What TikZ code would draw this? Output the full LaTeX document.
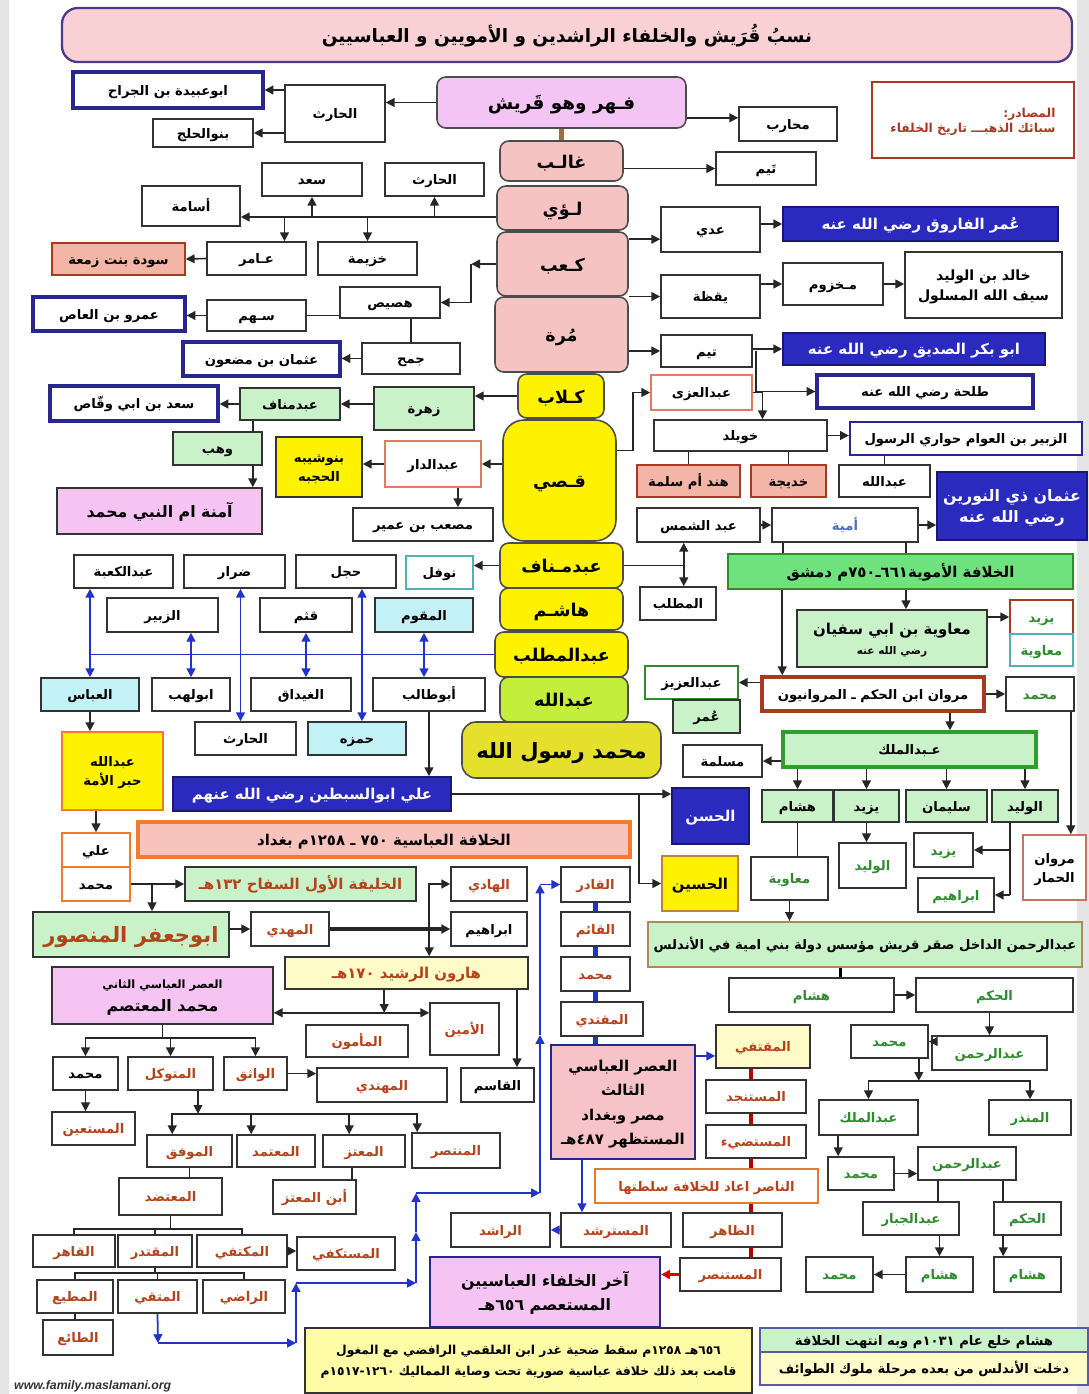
\documentclass[tikz,border=0pt]{standalone}
\usepackage{fontspec}
\usetikzlibrary{arrows.meta}
\newfontfamily\arabicfont[Script=Arabic]{DejaVu Sans}
\newfontfamily\urlfont{Liberation Sans}
\TeXXeTstate=1
\newcommand\artext[1]{\raisebox{0pt}[0.8em][0em]{\arabicfont\beginR #1\endR}}
\definecolor{titlefill}{HTML}{F9D0D4}
\definecolor{titledraw}{HTML}{4A3C8C}
\definecolor{fahrfill}{HTML}{F4C4F4}
\definecolor{spinepink}{HTML}{F6C3C3}
\definecolor{spineyel}{HTML}{FFF200}
\definecolor{limefill}{HTML}{C4EE3C}
\definecolor{rasulfill}{HTML}{E4E02C}
\definecolor{lgreen}{HTML}{C9F2C9}
\definecolor{umgreen}{HTML}{6FE27E}
\definecolor{salmon}{HTML}{F3B5A6}
\definecolor{lcyan}{HTML}{C2F1F6}
\definecolor{royal}{HTML}{2A2ABF}
\definecolor{navyb}{HTML}{28288C}
\definecolor{pinkmag}{HTML}{F6C4F2}
\definecolor{thirdpink}{HTML}{F6C4C8}
\definecolor{abbpink}{HTML}{F7C3BC}
\definecolor{orng}{HTML}{F07A2E}
\definecolor{lyellow}{HTML}{FFFBC9}
\definecolor{fallyellow}{HTML}{FFFCA8}
\definecolor{brn}{HTML}{B4421B}
\definecolor{grn}{HTML}{2E8B2E}
\definecolor{redbrown}{HTML}{A83A22}
\definecolor{salmondraw}{HTML}{E07A60}
\definecolor{tealdraw}{HTML}{4FB3B3}
\definecolor{umblue}{HTML}{4F6FB8}
\definecolor{mgreen}{HTML}{2E9E2E}
\definecolor{dakhildraw}{HTML}{B08A50}
\definecolor{lineblue}{HTML}{2233CC}
\definecolor{brownline}{HTML}{9A7040}
\definecolor{sidegray}{HTML}{E4E4E4}
\begin{document}
\begin{tikzpicture}[x=0.02cm, y=-0.02cm,
    >={Triangle[length=5pt,width=5pt]},
    ltrb/.style args={#1/#2/#3/#4}{at={({(#1+#3)/2},{(#2+#4)/2})},
        minimum width={(#3-#1)*0.02cm}, minimum height={(#4-#2)*0.02cm}},
    box/.style={draw=black!80, line width=0.9pt, fill=white, inner sep=1pt,
        font=\bfseries\fontsize{7.5}{9.5}\selectfont},
    pinkspine/.style={box, rounded corners=5pt, fill=spinepink, draw=black!70,
        font=\bfseries\fontsize{10}{12}\selectfont},
    yelspine/.style={pinkspine, fill=spineyel},
    bluebord/.style={box, draw=navyb, line width=1.8pt},
    bluefill/.style={box, fill=royal, draw=royal!60!black, text=white,
        font=\bfseries\fontsize{8.5}{10.5}\selectfont},
    greenbox/.style={box, fill=lgreen},
    salmonbox/.style={box, fill=salmon, draw=redbrown},
    cyanbox/.style={box, fill=lcyan},
    yelbox/.style={box, fill=spineyel},
    magbox/.style={box, fill=pinkmag},
    arr/.style={->, draw=black!85, line width=0.9pt},
    ln/.style={draw=black!85, line width=0.9pt},
    barr/.style={->, draw=lineblue, line width=1pt},
    bln/.style={draw=lineblue, line width=1pt},
    bdbl/.style={<->, draw=lineblue, line width=1pt},
    thb/.style={draw=lineblue, line width=2.4pt},
    thr/.style={draw=red!70!black, line width=2.4pt},
    rarr/.style={->, draw=red!85!black, line width=1.2pt}]
    \useasboundingbox (0,0) rectangle (1089,1394);
    \fill[sidegray] (0,0) rectangle (1089,1394);
    \fill[white] (9,0) rectangle (1077,1394);

    \node[box, rounded corners=9pt, fill=titlefill, draw=titledraw, line width=1.3pt,
        font=\bfseries\fontsize{10.5}{13}\selectfont, ltrb=62/8/1072/62] (title)
        {\artext{نسبُ قُرَيش والخلفاء الراشدين و الأمويين و العباسيين}};
    \node[pinkspine, fill=fahrfill, font=\bfseries\fontsize{10.5}{12}\selectfont,
        ltrb=437/77/686/128] (fahr) {\artext{فـهر وهو قَريش}};
    \node[box, ltrb=285/85/385/142] (harithA) {\artext{الحارث}};
    \node[bluebord, ltrb=73/72/263/108] (ubayda) {\artext{ابوعبيدة بن الجراح}};
    \node[box, ltrb=153/119/253/147] (banuhalaj) {\artext{بنوالحلج}};
    \node[box, ltrb=739/107/837/141] (muharib) {\artext{محارب}};
    \node[box, draw=redbrown, text=redbrown, align=right,
        font=\bfseries\fontsize{7}{9}\selectfont, ltrb=872/82/1074/158] (sources)
        {\artext{المصادر:}\\\artext{سبائك الذهبـــ تاريخ الخلفاء}};
    \node[pinkspine, ltrb=500/141/623/181] (ghalib) {\artext{غالـب}};
    \node[box, ltrb=716/152/816/185] (taymA) {\artext{تَيم}};
    \node[pinkspine, ltrb=497/186/628/230] (luayy) {\artext{لـؤي}};
    \node[box, ltrb=385/163/484/196] (harithB) {\artext{الحارث}};
    \node[box, ltrb=262/163/362/196] (saad) {\artext{سعد}};
    \node[box, ltrb=142/186/240/226] (usama) {\artext{أسامة}};
    \node[box, ltrb=318/242/417/275] (khuzayma) {\artext{خزيمة}};
    \node[box, ltrb=207/242/306/275] (amir) {\artext{عـامر}};
    \node[salmonbox, ltrb=52/243/185/275] (sawda) {\artext{سودة بنت زمعة}};
    \node[pinkspine, ltrb=497/232/628/296] (kaab) {\artext{كـعب}};
    \node[box, ltrb=340/287/440/318] (husays) {\artext{هصيص}};
    \node[box, ltrb=207/300/306/331] (sahm) {\artext{سـهم}};
    \node[bluebord, ltrb=33/297/185/331] (amr) {\artext{عمرو بن العاص}};
    \node[box, ltrb=362/343/460/374] (jumah) {\artext{جمح}};
    \node[bluebord, ltrb=183/342/340/376] (uthmanM) {\artext{عثمان بن مضعون}};
    \node[pinkspine, ltrb=495/297/628/372] (murra) {\artext{مُرة}};
    \node[box, ltrb=661/207/760/252] (adi) {\artext{عدي}};
    \node[bluefill, ltrb=783/207/1058/241] (umar) {\artext{عُمر الفاروق رضي الله عنه}};
    \node[box, ltrb=661/275/760/318] (yaqaza) {\artext{يقظة}};
    \node[box, ltrb=783/263/883/305] (makhzum) {\artext{مـخزوم}};
    \node[box, align=center, font=\bfseries\fontsize{8}{11}\selectfont, ltrb=905/252/1062/318] (khalid)
        {\artext{خالد بن الوليد}\\\artext{سيف الله المسلول}};
    \node[box, ltrb=661/335/752/367] (taymB) {\artext{تيم}};
    \node[bluefill, ltrb=783/333/1045/365] (abubakr) {\artext{ابو بكر الصديق رضي الله عنه}};
    \node[bluebord, ltrb=817/375/1033/408] (talha) {\artext{طلحة رضي الله عنه}};
    \node[yelspine, ltrb=518/374/604/418] (kilab) {\artext{كـلاب}};
    \node[greenbox, ltrb=374/387/474/430] (zuhra) {\artext{زهرة}};
    \node[greenbox, ltrb=240/388/340/420] (abdmanafZ) {\artext{عبدمناف}};
    \node[bluebord, ltrb=50/386/218/421] (saadw) {\artext{سعد بن ابي وقّاص}};
    \node[greenbox, ltrb=173/432/262/465] (wahb) {\artext{وهب}};
    \node[magbox, font=\bfseries\fontsize{9}{11}\selectfont, ltrb=57/488/262/534] (amina)
        {\artext{آمنة ام النبي محمد}};
    \node[yelbox, align=center, font=\bfseries\fontsize{7.5}{11}\selectfont, ltrb=276/437/362/497] (banushayba)
        {\artext{بنوشيبه}\\\artext{الحجبه}};
    \node[box, draw=salmondraw, ltrb=385/441/481/487] (abddar) {\artext{عبدالدار}};
    \node[box, ltrb=353/508/493/541] (musab) {\artext{مصعب بن عمير}};
    \node[yelspine, rounded corners=12pt, ltrb=503/420/616/541] (qusayy) {\artext{قـصي}};
    \node[box, draw=salmondraw, ltrb=651/375/752/410] (abduzza) {\artext{عبدالعزى}};
    \node[box, ltrb=654/420/827/451] (khuwaylid) {\artext{خويلد}};
    \node[bluebord, line width=1.3pt, ltrb=850/422/1082/455] (zubayr)
        {\artext{الزبير بن العوام حواري الرسول}};
    \node[box, ltrb=839/465/930/497] (abdallahZ) {\artext{عبدالله}};
    \node[salmonbox, ltrb=637/465/740/497] (hind) {\artext{هند أم سلمة}};
    \node[salmonbox, ltrb=751/465/826/497] (khadija) {\artext{خديجة}};
    \node[bluefill, align=center, font=\bfseries\fontsize{9}{12}\selectfont, ltrb=937/472/1087/540] (uthman)
        {\artext{عثمان ذي النورين}\\\artext{رضي الله عنه}};
    \node[box, ltrb=637/508/760/542] (abdshams) {\artext{عبد الشمس}};
    \node[box, text=umblue, ltrb=772/508/918/542] (umayya) {\artext{أمية}};
    \node[yelspine, ltrb=500/543/623/588] (abdmanaf) {\artext{عبدمـناف}};
    \node[box, ltrb=640/587/716/620] (muttalib) {\artext{المطلب}};
    \node[box, draw=tealdraw, ltrb=406/556/473/589] (nawfal) {\artext{نوفل}};
    \node[box, fill=umgreen, draw=grn, font=\bfseries\fontsize{8.5}{10}\selectfont,
        ltrb=728/554/1073/589] (umayyad) {\artext{الخلافة الأموية٦٦١ـ٧٥٠م دمشق}};
    \node[greenbox, align=center, font=\bfseries\fontsize{8.5}{11}\selectfont, ltrb=797/610/987/667] (muawiya)
        {\artext{معاوية بن ابي سفيان}\\{\fontsize{6}{8}\selectfont\artext{رضي الله عنه}}};
    \node[box, draw=redbrown, text=grn, ltrb=1010/600/1073/634] (yazidA) {\artext{يزيد}};
    \node[box, draw=tealdraw, text=grn, ltrb=1010/634/1073/666] (muawiyaB) {\artext{معاوية}};
    \node[box, draw=redbrown, line width=2pt, ltrb=762/677/984/711] (marwan)
        {\artext{مروان ابن الحكم ـ المروانيون}};
    \node[box, text=grn, ltrb=1006/677/1074/711] (muhammadM) {\artext{محمد}};
    \node[box, draw=grn, ltrb=645/666/738/699] (abdaziz) {\artext{عبدالعزيز}};
    \node[greenbox, ltrb=673/700/740/733] (umarB) {\artext{عُمر}};
    \node[box, ltrb=683/745/762/777] (maslama) {\artext{مسلمة}};
    \node[greenbox, draw=mgreen, line width=2pt, ltrb=783/732/1036/767] (abdmalik)
        {\artext{عـبدالملك}};
    \node[greenbox, ltrb=762/790/833/822] (hishamA) {\artext{هشام}};
    \node[greenbox, ltrb=834/790/899/822] (yazidB) {\artext{يزيد}};
    \node[greenbox, ltrb=906/790/987/822] (sulayman) {\artext{سليمان}};
    \node[greenbox, ltrb=992/790/1058/822] (walidA) {\artext{الوليد}};
    \node[box, text=grn, ltrb=839/843/906/888] (walidB) {\artext{الوليد}};
    \node[box, text=grn, ltrb=914/833/973/867] (yazidC) {\artext{يزيد}};
    \node[box, text=grn, ltrb=918/878/994/912] (ibrahimA) {\artext{ابراهيم}};
    \node[box, align=center, draw=redbrown!70, font=\bfseries\fontsize{7.5}{11}\selectfont,
        ltrb=1023/835/1086/900] (marwanH) {\artext{مروان}\\\artext{الحمار}};
    \node[box, text=grn, ltrb=751/857/828/900] (muawiyaC) {\artext{معاوية}};
    \node[greenbox, draw=dakhildraw, line width=1.3pt, font=\bfseries\fontsize{7.5}{10}\selectfont,
        ltrb=648/922/1082/967] (dakhil)
        {\artext{عبدالرحمن الداخل صقر قريش مؤسس دولة بني امية في الأندلس}};
    \node[box, text=grn, ltrb=729/978/894/1012] (hishamB) {\artext{هشام}};
    \node[box, text=grn, ltrb=916/978/1073/1012] (hakamA) {\artext{الحكم}};
    \node[box, text=grn, ltrb=932/1036/1047/1070] (abdrahmanA) {\artext{عبدالرحمن}};
    \node[box, text=grn, ltrb=851/1025/928/1058] (muhammadA) {\artext{محمد}};
    \node[box, text=grn, ltrb=819/1100/918/1135] (abdmalikB) {\artext{عبدالملك}};
    \node[box, text=grn, ltrb=989/1100/1071/1135] (mundhir) {\artext{المنذر}};
    \node[box, text=grn, ltrb=828/1157/894/1190] (muhammadB) {\artext{محمد}};
    \node[box, text=grn, ltrb=918/1147/1016/1180] (abdrahmanB) {\artext{عبدالرحمن}};
    \node[box, text=grn, ltrb=863/1202/959/1235] (abdjabbar) {\artext{عبدالجبار}};
    \node[box, text=grn, ltrb=994/1202/1061/1235] (hakamB) {\artext{الحكم}};
    \node[box, text=grn, ltrb=906/1257/973/1292] (hishamC) {\artext{هشام}};
    \node[box, text=grn, ltrb=994/1257/1061/1292] (hishamD) {\artext{هشام}};
    \node[box, text=grn, ltrb=806/1257/873/1292] (muhammadC) {\artext{محمد}};
    \node[greenbox, draw=gray!70!blue, font=\bfseries\fontsize{7.5}{10}\selectfont,
        ltrb=760/1328/1088/1352] (endA) {\artext{هشام خلع عام ١٠٣١م وبه انتهت الخلافة}};
    \node[box, fill=lyellow, draw=gray!70!blue, font=\bfseries\fontsize{7.5}{10}\selectfont,
        ltrb=760/1352/1088/1385] (endB) {\artext{دخلت الأندلس من بعده مرحلة ملوك الطوائف}};

    \node[yelspine, ltrb=500/588/623/630] (hashim) {\artext{هاشـم}};
    \node[yelspine, ltrb=495/632/628/677] (abdmuttalib) {\artext{عبدالمطلب}};
    \node[yelspine, fill=limefill, ltrb=500/677/628/722] (abdallahS) {\artext{عبدالله}};
    \node[yelspine, fill=rasulfill, rounded corners=8pt, font=\bfseries\fontsize{12}{14}\selectfont,
        ltrb=462/722/661/778] (rasul) {\artext{محمد رسول الله}};
    \node[box, ltrb=74/555/173/588] (abdkaaba) {\artext{عبدالكعبة}};
    \node[box, ltrb=184/555/285/588] (dirar) {\artext{ضرار}};
    \node[box, ltrb=296/555/396/588] (hajl) {\artext{حجل}};
    \node[box, ltrb=107/598/218/632] (zubayrB) {\artext{الزبير}};
    \node[box, ltrb=260/598/352/632] (qutham) {\artext{قثم}};
    \node[cyanbox, ltrb=375/598/473/632] (muqawwim) {\artext{المقوم}};
    \node[cyanbox, ltrb=41/678/139/711] (abbas) {\artext{العباس}};
    \node[box, ltrb=152/678/230/711] (abulahab) {\artext{ابولهب}};
    \node[box, ltrb=251/678/351/711] (ghaydaq) {\artext{الغيداق}};
    \node[box, ltrb=373/678/485/711] (abutalib) {\artext{أبوطالب}};
    \node[box, ltrb=195/722/296/755] (harithC) {\artext{الحارث}};
    \node[cyanbox, ltrb=308/722/406/755] (hamza) {\artext{حمزه}};
    \node[bluefill, ltrb=173/777/451/811] (ali) {\artext{علي ابوالسبطين رضي الله عنهم}};
    \node[bluefill, ltrb=672/788/749/844] (hasan) {\artext{الحسن}};
    \node[yelbox, draw=brown, font=\bfseries\fontsize{8.5}{10}\selectfont,
        ltrb=662/856/738/911] (husayn) {\artext{الحسين}};
    \node[yelbox, align=center, draw=orng, font=\bfseries\fontsize{7.5}{11}\selectfont,
        ltrb=62/732/163/810] (abdallahH) {\artext{عبدالله}\\\artext{حبر الأمة}};
    \node[box, draw=orng, ltrb=62/833/130/867] (aliB) {\artext{علي}};
    \node[box, draw=orng, ltrb=62/867/130/901] (muhammadH) {\artext{محمد}};
    \node[box, fill=abbpink, draw=orng, line width=2pt, font=\bfseries\fontsize{8.5}{10}\selectfont,
        ltrb=138/822/630/857] (abbasid) {\artext{الخلافة العباسية ٧٥٠ ـ ١٢٥٨م بغداد}};
    \node[greenbox, text=brn, font=\bfseries\fontsize{8.5}{10}\selectfont,
        ltrb=185/867/416/901] (saffah) {\artext{الخليفة الأول السفاح ١٣٢هـ}};
    \node[greenbox, text=brn, font=\bfseries\fontsize{12}{14}\selectfont,
        ltrb=33/912/229/957] (mansur) {\artext{ابوجعفر المنصور}};
    \node[box, text=brn, ltrb=251/912/329/946] (mahdi) {\artext{المهدي}};
    \node[box, text=brn, ltrb=451/867/527/901] (hadi) {\artext{الهادي}};
    \node[box, ltrb=451/912/527/946] (ibrahimB) {\artext{ابراهيم}};
    \node[box, fill=lyellow, text=brn, font=\bfseries\fontsize{8.5}{10}\selectfont,
        ltrb=285/957/528/989] (harun) {\artext{هارون الرشيد ١٧٠هـ}};
    \node[box, text=brn, ltrb=430/1003/499/1055] (amin) {\artext{الأمين}};
    \node[box, text=brn, ltrb=306/1025/408/1057] (mamun) {\artext{المأمون}};
    \node[magbox, align=center, font=\bfseries\fontsize{9}{13}\selectfont, ltrb=52/967/273/1024] (mutasim)
        {{\fontsize{6.5}{8}\selectfont\artext{العصر العباسي الثاني}}\\\artext{محمد المعتصم}};
    \node[box, ltrb=53/1057/118/1090] (muhammadN) {\artext{محمد}};
    \node[box, text=brn, ltrb=128/1057/213/1090] (mutawakkil) {\artext{المتوكل}};
    \node[box, text=brn, ltrb=224/1057/287/1090] (wathiq) {\artext{الواثق}};
    \node[box, text=brn, ltrb=317/1068/447/1102] (muhtadi) {\artext{المهتدي}};
    \node[box, ltrb=461/1068/534/1102] (qasim) {\artext{القاسم}};
    \node[box, text=brn, ltrb=52/1112/135/1145] (mustain) {\artext{المستعين}};
    \node[box, text=brn, ltrb=147/1135/232/1167] (muwaffaq) {\artext{الموفق}};
    \node[box, text=brn, ltrb=237/1135/315/1167] (mutamid) {\artext{المعتمد}};
    \node[box, text=brn, ltrb=323/1135/405/1167] (mutazz) {\artext{المعتز}};
    \node[box, text=brn, ltrb=412/1133/500/1168] (muntasir) {\artext{المنتصر}};
    \node[box, text=brn, ltrb=273/1180/356/1214] (ibnmutazz) {\artext{أبن المعتز}};
    \node[box, text=brn, ltrb=119/1178/222/1215] (mutadid) {\artext{المعتضد}};
    \node[box, text=brn, ltrb=33/1235/115/1267] (qahir) {\artext{القاهر}};
    \node[box, text=brn, ltrb=118/1235/192/1267] (muqtadir) {\artext{المقتدر}};
    \node[box, text=brn, ltrb=197/1235/287/1267] (muktafi) {\artext{المكتفي}};
    \node[box, text=brn, ltrb=297/1237/395/1270] (mustakfi) {\artext{المستكفي}};
    \node[box, text=brn, ltrb=37/1280/113/1313] (mutia) {\artext{المطيع}};
    \node[box, text=brn, ltrb=118/1280/197/1313] (muttaqi) {\artext{المتقي}};
    \node[box, text=brn, ltrb=203/1280/285/1313] (radi) {\artext{الراضي}};
    \node[box, text=brn, ltrb=43/1320/113/1355] (tai) {\artext{الطائع}};
    \node[box, text=brn, ltrb=561/867/630/902] (qadir) {\artext{القادر}};
    \node[box, text=brn, ltrb=561/912/630/946] (qaim) {\artext{القائم}};
    \node[box, text=brn, ltrb=561/957/630/991] (muhammadQ) {\artext{محمد}};
    \node[box, text=brn, ltrb=561/1002/643/1036] (muqtadi) {\artext{المقتدي}};
    \node[box, align=center, fill=thirdpink, draw=navyb, line width=1.2pt, font=\bfseries\fontsize{8.5}{14}\selectfont,
        ltrb=551/1045/695/1159] (third)
        {\artext{العصر العباسي}\\\artext{الثالث}\\\artext{مصر وبغداد}\\\artext{المستظهر ٤٨٧هـ}};
    \node[box, fill=lyellow, text=brn, ltrb=716/1025/810/1068] (muqtafi) {\artext{المقتفي}};
    \node[box, text=brn, ltrb=706/1080/806/1113] (mustanjid) {\artext{المستنجد}};
    \node[box, text=brn, ltrb=706/1125/806/1158] (mustadi) {\artext{المستضيء}};
    \node[box, draw=orng!70!brown, text=brn, ltrb=595/1169/818/1203] (nasir)
        {\artext{الناصر اعاد للخلافة سلطتها}};
    \node[box, text=brn, ltrb=683/1213/782/1247] (zahir) {\artext{الظاهر}};
    \node[box, text=brn, ltrb=680/1258/781/1291] (mustansir) {\artext{المستنصر}};
    \node[box, text=brn, ltrb=561/1213/671/1247] (mustarshid) {\artext{المسترشد}};
    \node[box, text=brn, ltrb=451/1213/550/1247] (rashid) {\artext{الراشد}};
    \node[magbox, align=center, draw=navyb, line width=1.2pt, font=\bfseries\fontsize{9}{14}\selectfont,
        ltrb=430/1257/660/1327] (last)
        {\artext{آخر الخلفاء العباسيين}\\\artext{المستعصم ٦٥٦هـ}};
    \node[box, align=center, fill=fallyellow, font=\bfseries\fontsize{7}{12}\selectfont,
        ltrb=305/1328/752/1393] (fall)
        {\artext{٦٥٦هـ ١٢٥٨م سقط ضحية غدر ابن العلقمي الرافضي مع المغول}\\
         \artext{قامت بعد ذلك خلافة عباسية صورية تحت وصاية المماليك ١٢٦٠-١٥١٧م}};
    \node[anchor=west, text=black!80, font=\urlfont\bfseries\itshape\fontsize{7}{8}\selectfont]
        (url) at (8,1386) {www.family.maslamani.org};

    \draw[arr] (fahr.west) -- (fahr.west -| harithA.east);
    \draw[arr] (harithA.west |- ubayda) -- (ubayda.east);
    \draw[arr] (harithA.west |- banuhalaj) -- (banuhalaj.east);
    \coordinate (fhJ) at ([yshift=0.22cm]fahr.south east);
    \draw[arr] (fhJ) -- (fhJ -| muharib.west);
    \draw[draw=brownline, line width=3pt] (fahr.south) -- (ghalib.north);
    \draw[arr] (ghalib.east |- taymA) -- (taymA.west);
    \coordinate (luJ) at ([yshift=-0.18cm]luayy.west);
    \draw[arr] (luJ) -- (luJ -| usama.east);
    \draw[arr] (luJ -| harithB) -- (harithB.south);
    \draw[arr] (luJ -| khuzayma) -- (khuzayma.north);
    \draw[arr] (luJ -| saad) -- (saad.south);
    \coordinate (amJ) at ([xshift=0.56cm]amir.north);
    \draw[arr] (luJ -| amJ) -- (amJ);
    \draw[arr] (amir.west) -- (sawda.east);
    \coordinate (kaJ) at ([xshift=-0.5cm]kaab.west);
    \draw[arr] (kaab.west) -- (kaJ);
    \draw[arr] (kaJ) |- (husays.east);
    \draw[ln] (husays.west |- sahm) -- (sahm.east);
    \draw[arr] (sahm.west) -- (sahm.west -| amr.east);
    \draw[ln] (husays.south -| jumah) -- (jumah.north);
    \draw[arr] (jumah.west) -- (jumah.west -| uthmanM.east);
    \coordinate (adJ) at ([yshift=-0.16cm]kaab.north east);
    \draw[arr] (adJ) -- (adJ -| adi.west);
    \draw[arr] (adi.east |- umar) -- (umar.west);
    \draw[arr] (murra.east |- yaqaza) -- (yaqaza.west);
    \draw[arr] (yaqaza.east |- makhzum) -- (makhzum.west);
    \draw[arr] (makhzum.east) -- (makhzum.east -| khalid.west);
    \draw[arr] (murra.east |- taymB) -- (taymB.west);
    \draw[arr] (taymB.east |- abubakr) -- (abubakr.west);
    \coordinate (tyJ) at ([xshift=0.06cm]taymB.east);
    \draw[arr] (tyJ) |- (talha.west);

    \draw[arr] (kilab.west) -- (kilab.west -| zuhra.east);
    \draw[arr] (zuhra.west |- abdmanafZ) -- (abdmanafZ.east);
    \draw[arr] (abdmanafZ.west) -- (abdmanafZ.west -| saadw.east);
    \coordinate (whJ) at ([xshift=-0.2cm]wahb.north east);
    \draw[ln] (whJ |- abdmanafZ.south) -- (whJ);
    \draw[arr] (whJ |- wahb.south) -- (whJ |- amina.north);
    \draw[arr] (qusayy.west |- abddar) -- (abddar.east);
    \draw[arr] (abddar.west) -- (abddar.west -| banushayba.east);
    \coordinate (dsJ) at ([xshift=0.5cm]abddar.south);
    \draw[arr] (dsJ) -- (dsJ |- musab.north);
    \coordinate (quJ) at ([xshift=0.32cm, yshift=0.6cm]qusayy.east);
    \draw[arr] (qusayy.east |- quJ) -- (quJ) |- (abduzza.west);
    \coordinate (khJ) at ([xshift=0.44cm]khuwaylid.north);
    \draw[arr] (abduzza.east) -| (khJ);
    \draw[arr] (khuwaylid.east) -- (khuwaylid.east -| zubayr.west);
    \draw[ln] (abdallahZ.north) -- (abdallahZ.north |- zubayr.south);
    \draw[ln] (hind.north) -- (hind.north |- khuwaylid.south);
    \draw[ln] (khadija.north) -- (khadija.north |- khuwaylid.south);
    \draw[arr] (abdshams.east) -- (abdshams.east -| umayya.west);
    \draw[arr] (umayya.east) -- (umayya.east -| uthman.west);
    \coordinate (mnJ) at ([xshift=1.2cm]abdmanaf.east);
    \draw[ln] (abdmanaf.east) -- (mnJ);
    \draw[arr] (mnJ) -- (mnJ |- abdshams.south);
    \draw[arr] (mnJ) -- (mnJ |- muttalib.north);
    \draw[arr] (abdmanaf.west) -- (abdmanaf.west -| nawfal.east);

    \coordinate (uyL) at ([xshift=0.24cm]umayya.south west);
    \coordinate (uyR) at ([xshift=-0.26cm]umayya.south east);
    \draw[ln] (uyL) -- (uyL |- umayyad.north);
    \draw[ln] (uyR) -- (uyR |- umayyad.north);
    \coordinate (mwJ) at ([xshift=0.28cm]muawiya.north);
    \draw[arr] (mwJ |- umayyad.south) -- (mwJ);
    \draw[arr] (muawiya.east |- yazidA) -- (yazidA.west);
    \coordinate (mrJ) at ([xshift=0.44cm]marwan.north west);
    \draw[arr] (mrJ |- umayyad.south) -- (mrJ);
    \draw[arr] (marwan.east) -- (marwan.east -| muhammadM.west);
    \draw[arr] (marwan.west |- abdaziz) -- (abdaziz.east);
    \coordinate (mhJ) at ([xshift=-0.08cm]muhammadM.south east);
    \draw[arr] (mhJ) -- (mhJ |- marwanH.north);
    \coordinate (amkJ) at ([xshift=1.54cm]marwan.south);
    \draw[arr] (amkJ) -- (amkJ |- abdmalik.north);
    \draw[arr] (abdmalik.west |- maslama) -- (maslama.east);
    \foreach \s in {hishamA, yazidB, sulayman, walidA}
        \draw[arr] (abdmalik.south -| \s) -- (\s.north);
    \draw[arr] (yazidB.south) -- (yazidB.south |- walidB.north);
    \coordinate (wlJ) at ([xshift=0.38cm]walidA.south west);
    \draw[ln] (wlJ) -- (wlJ |- ibrahimA);
    \draw[arr] (wlJ |- yazidC) -- (yazidC.east);
    \draw[arr] (wlJ |- ibrahimA) -- (ibrahimA.east);
    \draw[ln] (hishamA.south) -- (hishamA.south |- muawiyaC.north);
    \draw[arr] (muawiyaC.south) -- (muawiyaC.south |- dakhil.north);
    \coordinate (dkJ) at ([xshift=0.58cm]hishamB.north);
    \draw[line width=2.2pt] (dkJ |- dakhil.south) -- (dkJ);
    \draw[arr] (hishamB.east) -- (hishamB.east -| hakamA.west);
    \draw[arr] (abdrahmanA.north |- hakamA.south) -- (abdrahmanA.north);
    \draw[arr] (abdrahmanA.west |- muhammadA) -- (muhammadA.east);
    \coordinate (maJ) at ([xshift=-0.2cm]muhammadA.south east);
    \coordinate (maK) at ([yshift=-0.44cm]maJ);
    \draw[arr] (maJ) -- (maK);
    \draw[arr] (maK) -| (abdmalikB.north);
    \draw[arr] (maK) -| (mundhir.north);
    \coordinate (bmJ) at ([xshift=0.4cm]abdmalikB.south west);
    \draw[arr] (bmJ) -- (bmJ |- muhammadB.north);
    \draw[arr] (muhammadB.east) -- (muhammadB.east -| abdrahmanB.west);
    \coordinate (arJ) at ([xshift=0.42cm]abdrahmanB.south west);
    \draw[ln] (arJ) -- (arJ |- abdjabbar.north);
    \coordinate (hkJ) at ([xshift=0.2cm]hakamB.north west);
    \draw[ln] (hkJ |- abdrahmanB.south) -- (hkJ);
    \draw[arr] (hishamC.north |- abdjabbar.south) -- (hishamC.north);
    \draw[arr] (hkJ |- hakamB.south) -- (hkJ |- hishamD.north);
    \draw[arr] (hishamC.west) -- (hishamC.west -| muhammadC.east);

    \coordinate (dirJ) at ([xshift=0.12cm]dirar.south);
    \coordinate (hajJ) at ([xshift=0.32cm]hajl.south);
    \draw[bln] (abdmuttalib.west) -- (abdmuttalib.west -| abbas);
    \draw[bdbl] (abdkaaba.south -| abbas) -- (abbas.north);
    \draw[bdbl] (zubayrB.south -| abulahab) -- (abulahab.north);
    \draw[bdbl] (dirJ) -- (dirJ |- harithC.north);
    \draw[bdbl] (qutham.south) -- (qutham.south |- ghaydaq.north);
    \draw[bdbl] (hajJ) -- (hajJ |- hamza.north);
    \draw[bdbl] (muqawwim.south) -- (muqawwim.south |- abutalib.north);
    \draw[arr] (abutalib.south) -- (abutalib.south |- ali.north);
    \coordinate (alJ) at ([xshift=3.74cm]ali.east);
    \draw[arr] (ali.east) -- (ali.east -| hasan.west);
    \draw[arr] (alJ) |- (husayn.west);
    \draw[arr] (abbas.south) -- (abbas.south |- abdallahH.north);
    \draw[arr] (aliB.north |- abdallahH.south) -- (aliB.north);
    \draw[arr] (muhammadH.east) -- (muhammadH.east -| saffah.west);
    \coordinate (mnsJ) at ([xshift=0.42cm]mansur.north);
    \draw[arr] (mnsJ |- muhammadH.east) -- (mnsJ);
    \draw[arr] (mansur.east |- mahdi) -- (mahdi.west);
    \draw[arr, line width=2pt] (mahdi.east) -- (mahdi.east -| ibrahimB.west);
    \coordinate (mdhJ) at ([xshift=-0.42cm]ibrahimB.west);
    \draw[arr] (mdhJ) |- (hadi.west);
    \draw[arr] (mdhJ) -- (mdhJ |- harun.north);
    \coordinate (hrJ) at ([xshift=2cm, yshift=-0.46cm]harun.south west);
    \draw[arr] (hrJ |- harun.south) -- (hrJ);
    \draw[arr] (hrJ) -- (hrJ -| amin.west);
    \draw[arr] (hrJ) -- (hrJ -| mutasim.east);
    \coordinate (qsJ) at ([xshift=0.39cm]qasim.north);
    \draw[arr] (qsJ |- harun.south) -- (qsJ);
    \coordinate (mtJ) at ([yshift=-0.26cm]mutasim.south);
    \draw[ln] (mutasim.south) -- (mtJ);
    \draw[arr] (mtJ) -| (muhammadN.north);
    \draw[arr] (mtJ) -| (wathiq.north);
    \draw[arr] (mtJ -| mutawakkil) -- (mutawakkil.north);
    \draw[arr] (wathiq.east) -- (wathiq.east -| muhtadi.west);
    \draw[arr] (muhammadN.south) -- (muhammadN.south |- mustain.north);
    \coordinate (mkI) at ([xshift=0.55cm]mutawakkil.south);
    \coordinate (mkJ) at ([yshift=-0.46cm]mkI);
    \draw[arr] (mkI) -- (mkJ);
    \coordinate (mfJ) at ([xshift=0.52cm]muwaffaq.north west);
    \coordinate (mtdJ) at ([xshift=0.3cm]mutamid.north west);
    \coordinate (mzJ) at ([xshift=0.54cm]mutazz.north west);
    \coordinate (msJ) at ([xshift=0.12cm]muntasir.north west);
    \draw[arr] (mkJ) -| (mfJ);
    \draw[arr] (mkJ) -| (msJ);
    \draw[arr] (mkJ -| mtdJ) -- (mtdJ);
    \draw[arr] (mkJ -| mzJ) -- (mzJ);
    \coordinate (ibJ) at ([xshift=0.6cm]mutazz.south west);
    \draw[ln] (ibJ) -- (ibJ |- ibnmutazz.north);
    \draw[ln] (muwaffaq.south) -- (muwaffaq.south |- mutadid.north);
    \coordinate (mdJ) at ([yshift=-0.26cm]mutadid.south);
    \draw[ln] (mutadid.south) -- (mdJ);
    \draw[ln] (qahir.north) |- (mdJ) -| (muktafi.north);
    \draw[ln] (muqtadir.north) -- (muqtadir.north |- mdJ);
    \draw[arr] (muktafi.east) -- (muktafi.east -| mustakfi.west);
    \coordinate (mqJ) at ([yshift=-0.1cm]muqtadir.south);
    \draw[ln] (muqtadir.south) -- (mqJ);
    \draw[ln] (mutia.north) |- (mqJ) -| (radi.north);
    \draw[ln] (muttaqi.north) -- (muttaqi.north |- mqJ);
    \draw[ln] (mutia.south) -- (mutia.south |- tai.north);

    \coordinate (b1) at (158,1343);
    \coordinate (b2) at (296,1343);
    \coordinate (b3) at (296,1283);
    \coordinate (b4) at (416,1283);
    \coordinate (b5) at (416,1232);
    \coordinate (b6) at (416,1193);
    \coordinate (b7) at (540,1193);
    \coordinate (b8) at (540,1035);
    \draw[barr] (muttaqi.south) -- (b1);
    \foreach \a/\b in {b1/b2, b2/b3, b3/b4, b4/b5, b5/b6, b6/b7, b7/b8}
        \draw[barr] (\a) -- (\b);
    \draw[barr] (b8) -- (b8 |- qadir);
    \draw[barr] (b8 |- qadir) -- (qadir.west);
    \draw[thb] (qadir.south) -- (qaim.north);
    \draw[thb] (qaim.south) -- (muhammadQ.north);
    \draw[thb] (muhammadQ.south) -- (muhammadQ.south |- muqtadi.north);
    \draw[thb] (muhammadQ.south |- muqtadi.south) -- (muhammadQ.south |- third.north);
    \coordinate (thJ) at ([yshift=-0.24cm]third.north east);
    \draw[barr] (thJ) -- (thJ -| muqtafi.west);
    \coordinate (tsJ) at ([xshift=0.64cm]third.south west);
    \draw[barr] (tsJ) -- (tsJ |- mustarshid.north);
    \draw[barr] (mustarshid.west) -- (mustarshid.west -| rashid.east);
    \coordinate (rs) at (751,0);
    \foreach \u/\v in {muqtafi/mustanjid, mustanjid/mustadi, mustadi/nasir, nasir/zahir, zahir/mustansir}
        \draw[thr] (\u.south -| rs) -- (\v.north -| rs);
    \draw[rarr] (mustansir.west) -- (mustansir.west -| last.east);
\end{tikzpicture}
\end{document}
